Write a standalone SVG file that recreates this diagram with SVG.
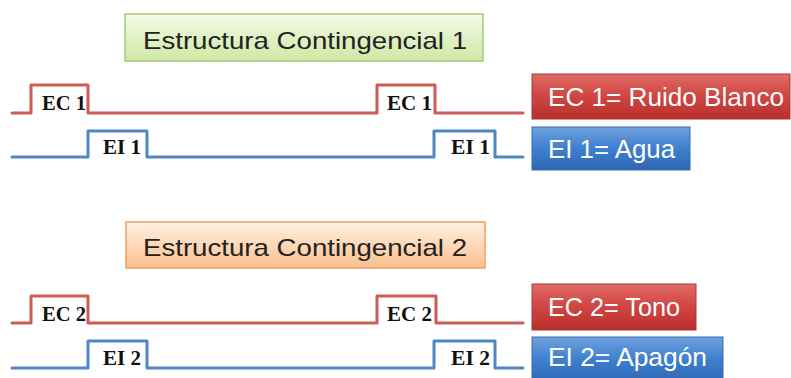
<svg xmlns="http://www.w3.org/2000/svg" width="791" height="378" viewBox="0 0 791 378">
<defs>
<linearGradient id="gGreen" x1="0" y1="0" x2="0" y2="1"><stop offset="0" stop-color="#f2fae6"/><stop offset="1" stop-color="#cfe8a6"/></linearGradient>
<linearGradient id="gOrange" x1="0" y1="0" x2="0" y2="1"><stop offset="0" stop-color="#fff0e2"/><stop offset="1" stop-color="#fbc08e"/></linearGradient>
<linearGradient id="gRed" x1="0" y1="0" x2="0" y2="1"><stop offset="0" stop-color="#e06a66"/><stop offset="0.5" stop-color="#cf4541"/><stop offset="1" stop-color="#b8302c"/></linearGradient>
<linearGradient id="gBlue" x1="0" y1="0" x2="0" y2="1"><stop offset="0" stop-color="#6fa1de"/><stop offset="0.5" stop-color="#3f7fcf"/><stop offset="1" stop-color="#2e68b4"/></linearGradient>
</defs>
<style>
.sig{fill:none;stroke-width:3;stroke-linejoin:round;stroke-linecap:round}
.red{stroke:#cd5b57}
.blue{stroke:#4f86c6}
.lbl{font-family:"Liberation Serif",serif;font-weight:bold;font-size:20px;fill:#111}
.title{font-family:"Liberation Sans",Arial,sans-serif;font-size:24px;fill:#222}
.key{font-family:"Liberation Sans",Arial,sans-serif;font-size:25px;fill:#fff}
</style>
<g id="title1"><rect x="125" y="14" width="358" height="47" fill="url(#gGreen)" stroke="#a8c878" stroke-width="1.5"/><text class="title" x="143" y="49" textLength="324" lengthAdjust="spacingAndGlyphs">Estructura Contingencial 1</text></g>
<g id="title2"><rect x="126" y="222" width="359" height="46" fill="url(#gOrange)" stroke="#f0a060" stroke-width="1.5"/><text class="title" x="143" y="256" textLength="324" lengthAdjust="spacingAndGlyphs">Estructura Contingencial 2</text></g>
<g id="connectors">
<path class="sig red" d="M12,113 H31 V85 H88 V113 H377 V85 H435 V113 H523"/>
<path class="sig blue" d="M12,157 H88 V131 H147 V157 H434 V131 H495 V157 H523"/>
<path class="sig red" d="M12,323 H31 V296 H88 V323 H377 V296 H436 V323 H523"/>
<path class="sig blue" d="M12,368 H88 V341 H147 V368 H434 V341 H495 V368 H523"/>
</g>
<g id="labels">
<text class="lbl" x="42" y="110" textLength="44" lengthAdjust="spacingAndGlyphs">EC 1</text>
<text class="lbl" x="387" y="110" textLength="45" lengthAdjust="spacingAndGlyphs">EC 1</text>
<text class="lbl" x="103" y="154" textLength="38" lengthAdjust="spacingAndGlyphs">EI 1</text>
<text class="lbl" x="451" y="154" textLength="39" lengthAdjust="spacingAndGlyphs">EI 1</text>
<text class="lbl" x="42" y="321" textLength="44" lengthAdjust="spacingAndGlyphs">EC 2</text>
<text class="lbl" x="387" y="321" textLength="45" lengthAdjust="spacingAndGlyphs">EC 2</text>
<text class="lbl" x="103" y="365" textLength="38" lengthAdjust="spacingAndGlyphs">EI 2</text>
<text class="lbl" x="451" y="365" textLength="39" lengthAdjust="spacingAndGlyphs">EI 2</text>
</g>
<g id="keyEC1"><rect x="532" y="74" width="258" height="45" fill="url(#gRed)" stroke="#a83a36"/><text class="key" x="548" y="106" textLength="236" lengthAdjust="spacingAndGlyphs">EC 1= Ruido Blanco</text></g>
<g id="keyEI1"><rect x="532" y="127" width="158" height="43" fill="url(#gBlue)" stroke="#3a6aa8"/><text class="key" x="548" y="158" textLength="127" lengthAdjust="spacingAndGlyphs">EI 1= Agua</text></g>
<g id="keyEC2"><rect x="532" y="284" width="164" height="46" fill="url(#gRed)" stroke="#a83a36"/><text class="key" x="548" y="316" textLength="132" lengthAdjust="spacingAndGlyphs">EC 2= Tono</text></g>
<g id="keyEI2"><rect x="532" y="337" width="191" height="45" fill="url(#gBlue)" stroke="#3a6aa8"/><text class="key" x="548" y="366" textLength="159" lengthAdjust="spacingAndGlyphs">EI 2= Apagón</text></g>
</svg>
